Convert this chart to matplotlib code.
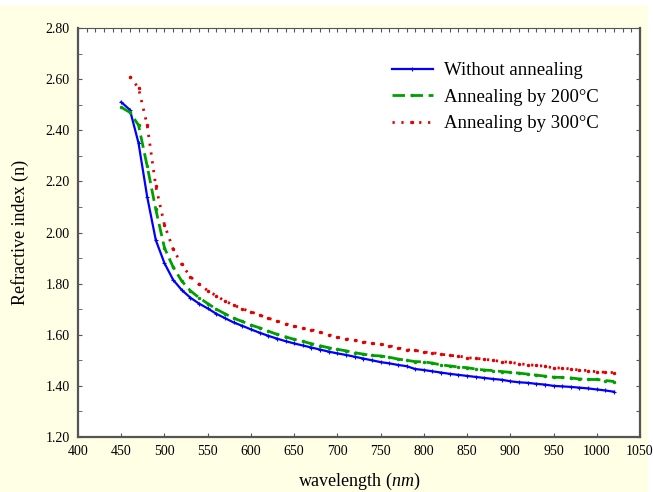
import numpy as np
import matplotlib.pyplot as plt
from matplotlib.patches import Rectangle
from matplotlib.ticker import MultipleLocator

plt.rcParams['font.family'] = 'Liberation Serif'
plt.rcParams['mathtext.fontset'] = 'custom'
plt.rcParams['mathtext.it'] = 'Liberation Serif:italic'
plt.rcParams['mathtext.rm'] = 'Liberation Serif'

# wavelength grid (nm)
wl = list(range(450, 1030, 10))
wl_300 = list(range(460, 1030, 10))

n_plain = [2.51, 2.48, 2.35, 2.14, 1.97, 1.88, 1.815, 1.775, 1.745, 1.722,
           1.703, 1.682, 1.665, 1.648, 1.635, 1.621, 1.608, 1.596, 1.585, 1.575,
           1.566, 1.558, 1.550, 1.542, 1.534, 1.527, 1.521, 1.514, 1.507, 1.500,
           1.493, 1.488, 1.482, 1.477, 1.466, 1.462, 1.457, 1.452, 1.447, 1.443,
           1.439, 1.435, 1.431, 1.427, 1.424, 1.418, 1.414, 1.412, 1.408, 1.405,
           1.400, 1.398, 1.396, 1.393, 1.390, 1.386, 1.382, 1.377]

n_200 = [2.49, 2.47, 2.42, 2.26, 2.09, 1.94, 1.865, 1.81, 1.772, 1.745,
         1.722, 1.700, 1.682, 1.665, 1.652, 1.638, 1.627, 1.614, 1.602, 1.592,
         1.582, 1.574, 1.565, 1.557, 1.549, 1.543, 1.537, 1.530, 1.524, 1.519,
         1.517, 1.512, 1.505, 1.500, 1.495, 1.494, 1.489, 1.482, 1.478, 1.474,
         1.471, 1.466, 1.462, 1.460, 1.456, 1.453, 1.450, 1.446, 1.442, 1.438,
         1.434, 1.433, 1.431, 1.427, 1.425, 1.425, 1.421, 1.417]

n_300 = [2.61, 2.565, 2.42, 2.18, 2.03, 1.935, 1.875, 1.827, 1.797,
         1.773, 1.752, 1.732, 1.716, 1.702, 1.690, 1.677, 1.665, 1.654, 1.643,
         1.634, 1.625, 1.620, 1.610, 1.600, 1.590, 1.584, 1.578, 1.572, 1.566,
         1.563, 1.557, 1.549, 1.541, 1.539, 1.532, 1.530, 1.524, 1.519, 1.517,
         1.510, 1.508, 1.504, 1.500, 1.495, 1.492, 1.487, 1.483, 1.480, 1.477,
         1.470, 1.470, 1.466, 1.462, 1.460, 1.455, 1.453, 1.452]

labels = ['Without annealing', 'Annealing by 200°C', 'Annealing by 300°C']

fig = plt.figure(figsize=(6.53, 4.92), dpi=100, facecolor='white')
fig.patches.append(Rectangle((0, 0), 648 / 653, 486 / 492, transform=fig.transFigure,
                             facecolor='#FFFFE6', edgecolor='none', zorder=-10))
ax = fig.add_axes([78 / 653, 55 / 492, 562 / 653, 409 / 492])

ax.plot(wl, n_plain, color='#0000FF', lw=1.6, marker='+', ms=3, mew=0.8, label=labels[0])
ax.plot(wl, n_200, color='#00A000', lw=2.0, ls=(0, (4.5, 2)), marker='.', ms=3, label=labels[1])
ax.plot(wl_300, n_300, color='#E00000', lw=2.0, ls=(0, (0.8, 2.4)), marker='.', ms=3, label=labels[2])

ax.set_xlim(400, 1050)
ax.set_ylim(1.2, 2.8)
ax.xaxis.set_major_locator(MultipleLocator(50))
ax.yaxis.set_minor_locator(MultipleLocator(0.1))
ax.set_yticks(np.arange(1.2, 2.81, 0.2))
ax.set_yticklabels(['%.2f' % v for v in np.arange(1.2, 2.81, 0.2)])
ax.tick_params(axis='both', which='both', direction='in', labelsize=10, color='#555555')
ax.tick_params(axis='x', which='major', length=3, pad=6)
ax.tick_params(axis='y', which='both', length=3, pad=6)

# extra ticks on top and right frame
top = ax.secondary_xaxis('top')
top.xaxis.set_major_locator(MultipleLocator(10))
top.tick_params(direction='in', length=3, labeltop=False, color='#555555')
right = ax.secondary_yaxis('right')
right.yaxis.set_major_locator(MultipleLocator(0.1))
right.tick_params(direction='in', length=3, labelright=False, color='#555555')

for side in ['left', 'bottom', 'right']:
    ax.spines[side].set_color('#555555')
    ax.spines[side].set_linewidth(1.6)
ax.spines['top'].set_color('#555555')
ax.spines['top'].set_linewidth(0.8)
top.spines['top'].set_visible(False)
right.spines['right'].set_visible(False)

ax.set_xlabel('wavelength ($\\mathit{nm}$)', fontsize=13, labelpad=9)
ax.set_ylabel('Refractive index (n)', fontsize=13, labelpad=12)

ax.legend(loc='upper left', bbox_to_anchor=(0.545, 0.935), frameon=False, fontsize=13.5,
          handlelength=2.2, handletextpad=0.6, labelspacing=0.5, borderaxespad=0)

fig.savefig('out.png', dpi=100, facecolor=fig.get_facecolor())
